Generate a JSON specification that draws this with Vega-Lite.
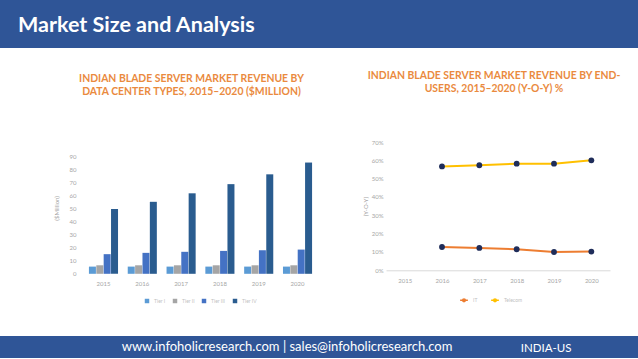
{
  "$schema": "https://vega.github.io/schema/vega-lite/v6.json",
  "padding": 0,
  "background": "white",
  "spacing": 0,
  "config": {
    "view": {"stroke": null},
    "font": "Lato",
    "axis": {"labelFont": "Lato", "titleFont": "Lato"},
    "legend": {"labelFont": "Lato"}
  },
  "datasets": {
    "bars": [
      {"year": "2015", "type": "Tier I", "value": 5.5},
      {"year": "2015", "type": "Tier II", "value": 6.5},
      {"year": "2015", "type": "Tier III", "value": 15},
      {"year": "2015", "type": "Tier IV", "value": 49.5},
      {"year": "2016", "type": "Tier I", "value": 5.5},
      {"year": "2016", "type": "Tier II", "value": 6.5},
      {"year": "2016", "type": "Tier III", "value": 16},
      {"year": "2016", "type": "Tier IV", "value": 55},
      {"year": "2017", "type": "Tier I", "value": 5.5},
      {"year": "2017", "type": "Tier II", "value": 6.5},
      {"year": "2017", "type": "Tier III", "value": 16.8},
      {"year": "2017", "type": "Tier IV", "value": 61.5},
      {"year": "2018", "type": "Tier I", "value": 5.5},
      {"year": "2018", "type": "Tier II", "value": 6.5},
      {"year": "2018", "type": "Tier III", "value": 17.5},
      {"year": "2018", "type": "Tier IV", "value": 68.5},
      {"year": "2019", "type": "Tier I", "value": 5.5},
      {"year": "2019", "type": "Tier II", "value": 6.5},
      {"year": "2019", "type": "Tier III", "value": 18},
      {"year": "2019", "type": "Tier IV", "value": 76},
      {"year": "2020", "type": "Tier I", "value": 5.5},
      {"year": "2020", "type": "Tier II", "value": 6.5},
      {"year": "2020", "type": "Tier III", "value": 18.5},
      {"year": "2020", "type": "Tier IV", "value": 85}
    ],
    "lines": [
      {"year": "2016", "series": "IT", "value": 0.127},
      {"year": "2017", "series": "IT", "value": 0.122},
      {"year": "2018", "series": "IT", "value": 0.115},
      {"year": "2019", "series": "IT", "value": 0.100},
      {"year": "2020", "series": "IT", "value": 0.102},
      {"year": "2016", "series": "Telecom", "value": 0.567},
      {"year": "2017", "series": "Telecom", "value": 0.573},
      {"year": "2018", "series": "Telecom", "value": 0.582},
      {"year": "2019", "series": "Telecom", "value": 0.582},
      {"year": "2020", "series": "Telecom", "value": 0.600}
    ]
  },
  "vconcat": [
    {
      "width": 638, "height": 48,
      "view": {"fill": "#2F5597"},
      "data": {"values": []}, "mark": "point", "encoding": {},
      "title": {
        "text": "Market Size and Analysis",
        "anchor": "start", "frame": "group", "dx": 18, "offset": -36,
        "color": "#FFFFFF", "fontSize": 21.5, "font": "Lato", "fontWeight": "bold"
      }
    },
    {"width": 0, "height": 21.7, "data": {"values": []}, "mark": "point", "encoding": {}},
    {
      "hconcat": [
        {"width": 80, "height": 0, "data": {"values": []}, "mark": "point", "encoding": {}},
        {
          "width": 241, "height": 131.8,
          "data": {"name": "bars"},
          "title": {
            "text": ["INDIAN BLADE SERVER MARKET REVENUE BY", "DATA CENTER TYPES, 2015–2020 ($MILLION)"],
            "anchor": "middle", "frame": "group", "dx": -9, "offset": 44.7,
            "color": "#EA8A3E", "fontSize": 10.4, "font": "Lato", "fontWeight": "bold", "lineHeight": 13
          },
          "mark": {"type": "bar"},
          "encoding": {
            "x": {
              "field": "year", "type": "nominal",
              "scale": {"paddingInner": 0.25, "paddingOuter": 0.23},
              "axis": {"title": null, "labelAngle": 0, "ticks": false, "domain": false, "labelPadding": 7, "labelFontSize": 6, "labelColor": "#A6A6A6"}
            },
            "xOffset": {"field": "type", "type": "nominal", "scale": {"paddingInner": 0.05}},
            "y": {
              "field": "value", "type": "quantitative",
              "scale": {"domain": [0, 100.7], "nice": false},
              "axis": {
                "values": [0, 10, 20, 30, 40, 50, 60, 70, 80, 90],
                "title": "($Million)", "grid": false, "domain": false, "ticks": false,
                "labelPadding": 4, "labelFontSize": 6, "labelColor": "#A6A6A6",
                "titleFontSize": 6, "titleColor": "#A6A6A6", "titleFontWeight": "normal", "titlePadding": 10
              }
            },
            "color": {
              "field": "type", "type": "nominal",
              "scale": {"domain": ["Tier I", "Tier II", "Tier III", "Tier IV"], "range": ["#5B9BD5", "#A5A5A5", "#4472C4", "#2A5C8F"]},
              "legend": {"orient": "none", "legendX": 64, "legendY": 156, "direction": "horizontal", "title": null, "labelFontSize": 5, "labelColor": "#BFBFBF", "symbolType": "square", "symbolSize": 20, "columnPadding": 6}
            }
          }
        },
        {"width": 65, "height": 0, "data": {"values": []}, "mark": "point", "encoding": {}},
        {
          "width": 224, "height": 128.3,
          "data": {"name": "lines"},
          "title": {
            "text": ["INDIAN BLADE SERVER MARKET REVENUE BY END-", "USERS, 2015–2020 (Y-O-Y) %"],
            "anchor": "middle", "frame": "group", "dx": -4, "offset": 44.7,
            "color": "#EA8A3E", "fontSize": 10.4, "font": "Lato", "fontWeight": "bold", "lineHeight": 13
          },
          "encoding": {
            "x": {
              "field": "year", "type": "ordinal",
              "scale": {"type": "point", "domain": ["2015", "2016", "2017", "2018", "2019", "2020"], "padding": 0.5},
              "axis": {"title": null, "labelAngle": 0, "ticks": false, "domainColor": "#D9D9D9", "labelPadding": 7, "labelFontSize": 6, "labelColor": "#A6A6A6"}
            },
            "y": {
              "field": "value", "type": "quantitative",
              "scale": {"domain": [0, 0.7], "nice": false},
              "axis": {
                "values": [0, 0.1, 0.2, 0.3, 0.4, 0.5, 0.6, 0.7], "format": ".0%",
                "title": "(Y-O-Y)", "grid": false, "domain": false, "ticks": false,
                "labelPadding": 3, "labelFontSize": 6, "labelColor": "#A6A6A6",
                "titleFontSize": 6, "titleColor": "#A6A6A6", "titleFontWeight": "normal", "titlePadding": 3
              }
            }
          },
          "layer": [
            {
              "mark": {"type": "line", "strokeWidth": 2},
              "encoding": {
                "color": {
                  "field": "series", "type": "nominal",
                  "scale": {"domain": ["IT", "Telecom"], "range": ["#ED7D31", "#FFC000"]},
                  "legend": {"orient": "none", "legendX": 73, "legendY": 153, "direction": "horizontal", "title": null, "labelFontSize": 5, "labelColor": "#BFBFBF", "symbolType": "M-1,0L1,0M-0.35,0A0.35,0.35,0,1,0,0.35,0A0.35,0.35,0,1,0,-0.35,0", "symbolFillColor": "#1F2D5A", "symbolStrokeWidth": 1.5, "symbolSize": 60, "columnPadding": 10}
                }
              }
            },
            {
              "mark": {"type": "point", "filled": true, "color": "#1F2D5A", "size": 34, "opacity": 1},
              "encoding": {"detail": {"field": "series", "type": "nominal"}}
            }
          ]
        }
      ],
      "spacing": 0,
      "bounds": "flush",
      "resolve": {"scale": {"color": "independent"}, "legend": {"color": "independent"}}
    },
    {"width": 0, "height": 30.5, "data": {"values": []}, "mark": "point", "encoding": {}},
    {
      "hconcat": [
        {
          "width": 505, "height": 22,
          "view": {"fill": "#2F5597"},
          "data": {"values": []}, "mark": "point", "encoding": {},
          "title": {
            "text": "www.infoholicresearch.com | sales@infoholicresearch.com",
            "anchor": "start", "frame": "group", "dx": 121.7, "offset": -18,
            "color": "#FFFFFF", "fontSize": 13, "font": "Lato", "fontWeight": "normal"
          }
        },
        {
          "width": 133, "height": 22,
          "view": {"fill": "#2F5597"},
          "data": {"values": []}, "mark": "point", "encoding": {},
          "title": {
            "text": "INDIA-US",
            "anchor": "start", "frame": "group", "dx": 15.7, "offset": -18,
            "color": "#FFFFFF", "fontSize": 11.5, "font": "Lato", "fontWeight": "normal"
          }
        }
      ],
      "spacing": 0,
      "bounds": "flush"
    }
  ]
}
